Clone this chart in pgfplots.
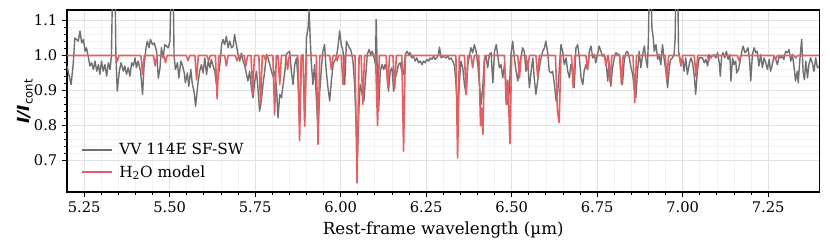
\documentclass[border=0pt]{standalone}
\usepackage{fontspec}
\setmainfont{DejaVu Serif}
\newfontfamily\dvsans{DejaVu Sans}
\usepackage{pgfplots}
\pgfplotsset{compat=1.18}
\usepackage{pgfplotstable}
\definecolor{specgray}{RGB}{112,112,112}
\definecolor{modelred}{RGB}{226,96,99}
\definecolor{majgrid}{RGB}{225,225,225}
\definecolor{mingrid}{RGB}{242,242,242}

\pgfplotstableread{
x y
5.200 0.970
5.212 0.917
5.218 0.974
5.223 1.050
5.233 1.041
5.238 1.070
5.243 1.036
5.248 1.046
5.253 1.012
5.257 1.022
5.262 0.998
5.267 0.970
5.272 0.979
5.277 0.960
5.282 0.984
5.287 0.955
5.292 0.974
5.296 0.946
5.301 0.984
5.306 0.955
5.311 0.974
5.316 0.941
5.321 0.979
5.326 0.960
5.330 1.000
5.334 1.250
5.340 1.250
5.343 1.000
5.347 0.898
5.353 0.955
5.358 0.979
5.365 0.955
5.369 0.970
5.374 0.946
5.379 0.965
5.384 0.941
5.389 0.979
5.394 0.970
5.399 0.993
5.403 0.965
5.408 0.984
5.415 0.955
5.421 0.889
5.425 0.965
5.431 1.022
5.435 1.041
5.440 1.022
5.444 1.046
5.450 1.031
5.455 1.036
5.462 1.012
5.467 0.935
5.472 0.965
5.476 1.022
5.481 0.993
5.486 1.031
5.496 1.022
5.501 1.041
5.506 1.250
5.510 1.250
5.513 1.000
5.517 0.960
5.523 0.979
5.527 0.936
5.533 0.984
5.537 0.974
5.543 0.950
5.546 0.922
5.552 0.950
5.556 0.912
5.562 0.960
5.566 0.922
5.572 0.893
5.576 0.855
5.580 0.893
5.583 0.922
5.588 0.955
5.593 0.974
5.598 0.950
5.603 0.993
5.608 0.946
5.613 0.984
5.618 0.965
5.622 0.989
5.627 0.970
5.632 0.955
5.637 0.917
5.642 0.941
5.647 0.974
5.652 1.031
5.656 1.046
5.661 1.031
5.666 1.055
5.671 1.022
5.676 1.041
5.681 1.022
5.686 1.027
5.690 1.060
5.695 1.031
5.700 1.003
5.705 0.984
5.710 1.007
5.715 0.984
5.720 0.970
5.725 0.946
5.729 0.927
5.734 0.955
5.739 0.908
5.744 0.879
5.749 0.927
5.754 0.955
5.759 0.898
5.763 0.841
5.768 0.870
5.773 0.917
5.778 0.955
5.783 1.003
5.788 0.993
5.793 0.974
5.798 0.955
5.802 0.941
5.807 0.955
5.812 0.917
5.817 0.822
5.822 0.889
5.827 0.879
5.832 0.917
5.837 0.955
5.841 1.003
5.846 1.008
5.851 1.012
5.856 0.955
5.861 0.917
5.866 0.974
5.871 0.993
5.875 0.936
5.880 0.812
5.885 0.989
5.890 1.003
5.895 0.812
5.900 1.050
5.905 1.079
5.908 1.131
5.911 1.050
5.914 0.984
5.919 0.917
5.924 0.974
5.929 0.879
5.934 0.784
5.939 0.898
5.944 0.965
5.948 1.012
5.953 1.031
5.958 0.955
5.963 0.908
5.968 0.870
5.973 0.927
5.978 0.974
5.982 0.984
5.987 0.993
5.992 1.022
5.997 1.070
6.002 1.031
6.007 1.012
6.012 0.917
6.017 1.041
6.021 1.031
6.026 1.022
6.031 1.012
6.036 0.984
6.041 0.917
6.046 0.784
6.049 0.708
6.054 0.860
6.057 0.917
6.063 0.889
6.068 0.870
6.073 0.936
6.078 1.003
6.083 1.017
6.088 1.003
6.092 1.012
6.097 0.998
6.102 0.974
6.104 1.103
6.107 0.955
6.111 0.841
6.116 0.955
6.121 0.974
6.126 0.960
6.130 0.974
6.135 0.955
6.140 0.898
6.145 0.955
6.150 0.965
6.155 0.898
6.160 0.936
6.165 0.955
6.169 0.974
6.174 0.979
6.179 0.955
6.184 0.946
6.189 1.003
6.194 1.012
6.199 1.003
6.203 1.008
6.208 0.993
6.213 0.998
6.218 0.984
6.223 0.993
6.228 0.979
6.233 0.984
6.238 0.974
6.242 0.984
6.247 0.979
6.252 0.989
6.257 0.984
6.262 0.993
6.267 0.989
6.272 0.998
6.276 0.989
6.281 0.993
6.286 1.003
6.289 1.024
6.294 0.993
6.299 0.998
6.304 0.995
6.309 0.993
6.313 0.998
6.318 0.989
6.323 0.993
6.328 0.984
6.333 0.970
6.338 0.908
6.343 0.841
6.348 0.936
6.352 0.984
6.357 0.965
6.362 0.917
6.367 0.889
6.372 0.974
6.377 1.003
6.381 1.022
6.386 1.008
6.391 1.031
6.396 1.012
6.401 0.974
6.406 0.917
6.411 0.860
6.416 0.917
6.420 0.984
6.425 0.998
6.430 0.965
6.435 1.003
6.440 1.008
6.445 0.922
6.450 1.012
6.455 1.031
6.459 1.003
6.464 0.965
6.469 0.974
6.474 0.936
6.479 0.974
6.484 0.917
6.489 0.860
6.493 0.898
6.498 1.003
6.503 1.041
6.508 0.993
6.513 0.955
6.518 0.927
6.523 0.974
6.527 0.993
6.532 1.022
6.537 1.012
6.542 0.955
6.547 0.984
6.552 0.908
6.557 0.955
6.562 0.993
6.566 0.936
6.571 0.889
6.576 0.927
6.581 0.965
6.586 0.993
6.591 1.012
6.596 1.022
6.600 1.041
6.605 1.012
6.610 0.955
6.615 0.950
6.620 0.955
6.625 0.917
6.630 0.870
6.635 0.898
6.639 0.955
6.644 1.031
6.649 1.012
6.654 0.974
6.659 0.993
6.664 0.955
6.669 0.936
6.673 0.974
6.678 0.955
6.683 0.908
6.688 1.022
6.693 1.031
6.698 0.993
6.703 0.936
6.708 0.917
6.712 0.955
6.717 0.974
6.722 0.960
6.727 1.012
6.732 1.027
6.737 0.993
6.742 1.003
6.746 0.979
6.751 1.003
6.756 1.027
6.761 1.012
6.766 0.998
6.771 1.003
6.776 0.984
6.781 0.927
6.785 0.979
6.790 0.912
6.795 0.965
6.800 0.993
6.805 1.008
6.810 1.003
6.815 1.003
6.819 0.955
6.824 0.917
6.829 0.984
6.834 1.008
6.839 1.012
6.844 0.993
6.849 0.965
6.854 0.946
6.858 0.908
6.863 0.879
6.868 0.955
6.873 1.012
6.878 0.965
6.883 1.003
6.888 1.027
6.892 0.993
6.897 0.965
6.900 1.050
6.903 1.250
6.907 1.250
6.910 1.080
6.914 1.050
6.917 1.012
6.922 1.031
6.927 0.989
6.931 1.003
6.936 0.974
6.941 1.031
6.946 0.989
6.951 0.955
6.956 0.908
6.961 0.965
6.965 0.989
6.970 0.993
6.975 1.003
6.978 1.050
6.981 1.250
6.985 1.250
6.988 1.012
6.995 0.974
7.000 0.993
7.004 0.955
7.009 0.993
7.014 0.946
7.019 0.974
7.024 0.993
7.029 0.979
7.034 0.941
7.038 0.889
7.043 0.955
7.048 0.993
7.058 0.993
7.063 0.979
7.068 0.989
7.073 0.970
7.077 1.003
7.082 0.993
7.087 0.998
7.092 1.003
7.097 0.993
7.102 1.008
7.107 0.979
7.110 0.941
7.114 0.998
7.118 1.008
7.123 0.993
7.128 1.012
7.133 0.989
7.138 1.003
7.141 0.927
7.146 0.993
7.150 0.974
7.155 0.984
7.158 0.950
7.163 0.960
7.167 0.979
7.173 1.012
7.177 1.027
7.182 1.008
7.186 1.012
7.191 1.022
7.196 0.984
7.199 0.927
7.204 1.003
7.209 1.022
7.214 1.008
7.218 1.012
7.223 0.970
7.228 1.003
7.233 0.965
7.238 0.993
7.243 0.979
7.248 0.960
7.253 0.989
7.257 0.955
7.262 0.974
7.267 0.998
7.272 0.989
7.277 0.974
7.282 0.998
7.287 0.993
7.291 0.998
7.296 0.989
7.301 1.012
7.306 1.008
7.311 1.017
7.316 0.984
7.321 1.003
7.326 0.965
7.330 0.927
7.335 0.955
7.338 0.922
7.343 0.993
7.348 1.046
7.352 0.955
7.356 0.931
7.360 0.984
7.365 0.936
7.369 0.974
7.374 0.993
7.379 0.979
7.384 0.955
7.389 0.993
7.394 0.965
7.399 0.970
}\obs

\pgfplotstableread{
x y
5.200 1.000
5.342 1.000
5.347 0.984
5.352 1.000
5.416 1.000
5.421 0.946
5.426 1.000
5.453 1.000
5.458 0.970
5.463 1.000
5.483 1.000
5.488 0.980
5.493 1.000
5.549 1.000
5.554 0.985
5.559 1.000
5.574 1.000
5.579 0.930
5.584 1.000
5.609 1.000
5.614 0.985
5.619 1.000
5.634 1.000
5.639 0.876
5.644 1.000
5.661 1.000
5.666 0.970
5.671 1.000
5.692 1.000
5.697 0.985
5.702 1.000
5.718 1.000
5.723 0.970
5.728 1.000
5.738 1.000
5.743 0.889
5.748 1.000
5.761 1.000
5.766 0.860
5.771 1.000
5.776 1.000
5.781 0.985
5.786 1.000
5.802 1.000
5.807 0.830
5.812 1.000
5.817 1.000
5.822 0.917
5.827 1.000
5.840 1.000
5.845 0.960
5.850 1.000
5.875 1.000
5.880 0.757
5.885 1.000
5.890 1.000
5.895 0.798
5.900 1.000
5.929 1.000
5.934 0.746
5.939 1.000
5.968 1.000
5.973 0.960
5.978 1.000
5.986 1.000
5.990 0.985
5.994 1.000
6.002 1.000
6.007 0.917
6.012 1.000
6.042 1.000
6.048 0.636
6.054 1.000
6.060 1.000
6.065 0.860
6.070 1.000
6.102 1.000
6.108 0.800
6.113 1.000
6.133 1.000
6.138 0.908
6.143 1.000
6.153 1.000
6.158 0.905
6.163 1.000
6.179 1.000
6.184 0.727
6.189 1.000
6.337 1.000
6.342 0.707
6.347 1.000
6.362 1.000
6.367 0.889
6.372 1.000
6.381 1.000
6.386 0.965
6.391 1.000
6.404 1.000
6.409 0.800
6.412 0.850
6.416 0.774
6.421 1.000
6.479 1.000
6.484 0.860
6.489 0.930
6.495 0.748
6.500 1.000
6.518 1.000
6.523 0.936
6.528 1.000
6.542 1.000
6.547 0.960
6.552 1.000
6.571 1.000
6.576 0.940
6.581 1.000
6.628 1.000
6.634 0.840
6.639 0.808
6.644 1.000
6.675 1.000
6.680 0.908
6.685 1.000
6.717 1.000
6.722 0.960
6.727 1.000
6.771 1.000
6.776 0.970
6.781 1.000
6.783 1.000
6.788 0.922
6.793 1.000
6.816 1.000
6.821 0.917
6.826 1.000
6.855 1.000
6.860 0.865
6.865 1.000
6.949 1.000
6.954 0.932
6.959 1.000
6.990 1.000
6.995 0.970
7.000 1.000
7.034 1.000
7.039 0.940
7.044 1.000
7.072 1.000
7.077 0.985
7.082 1.000
7.160 1.000
7.165 0.985
7.170 1.000
7.267 1.000
7.272 0.990
7.277 1.000
7.326 1.000
7.331 0.993
7.336 1.000
7.400 1.000
}\model

\begin{document}
\begin{tikzpicture}
\begin{axis}[
  scale only axis,
  width=564.4pt, height=136.5pt,
  xmin=5.2, xmax=7.4, ymin=0.61, ymax=1.13,
  axis line style={line width=0.8pt},
  xtick={5.25,5.5,5.75,6.0,6.25,6.5,6.75,7.0,7.25},
  ytick={0.7,0.8,0.9,1.0,1.1},
  minor x tick num=4, minor y tick num=4,
  tick align=outside, tick pos=left,
  major tick length=3.75pt, minor tick length=2.2pt,
  tick style={black, line width=0.6pt},
  /pgf/number format/assume math mode=true,
  xticklabel style={/pgf/number format/.cd, fixed, fixed zerofill, precision=2},
  yticklabel style={/pgf/number format/.cd, fixed, fixed zerofill, precision=1},
  ticklabel style={font=\fontsize{11}{13}\selectfont},
  grid=both,
  major grid style={majgrid, line width=0.6pt},
  minor grid style={mingrid, line width=0.5pt},
  xlabel={Rest-frame wavelength (µm)},
  ylabel={{\dvsans\bfseries\itshape I/I}\textsubscript{\dvsans cont}},
  label style={font=\fontsize{12.5}{15}\selectfont},
  ylabel shift=-6pt,
  legend style={at={(0.013,0.04)}, anchor=south west, draw=none, fill=none,
    font=\fontsize{11.5}{13}\selectfont, row sep=2.5pt,
    nodes={inner xsep=5pt}},
  legend cell align=left,
  legend image code/.code={\draw[#1] (0pt,0pt) -- (22.5pt,0pt);},
]
\coordinate (SW) at (rel axis cs:0,0);
\coordinate (NE) at (rel axis cs:1,1);
\addplot[color=specgray, line width=1.05pt, line join=round] table[x=x,y=y] {\obs};
\addlegendentry{VV 114E SF-SW}
\addplot[color=modelred, line width=1.2pt, line join=round] table[x=x,y=y] {\model};
\addlegendentry{H\textsubscript{2}O model}
\end{axis}
\pgfresetboundingbox
\path ([shift={(-50.25pt,-45pt)}]SW) rectangle ([shift={(7.9pt,7.5pt)}]NE);
\end{tikzpicture}
\end{document}
